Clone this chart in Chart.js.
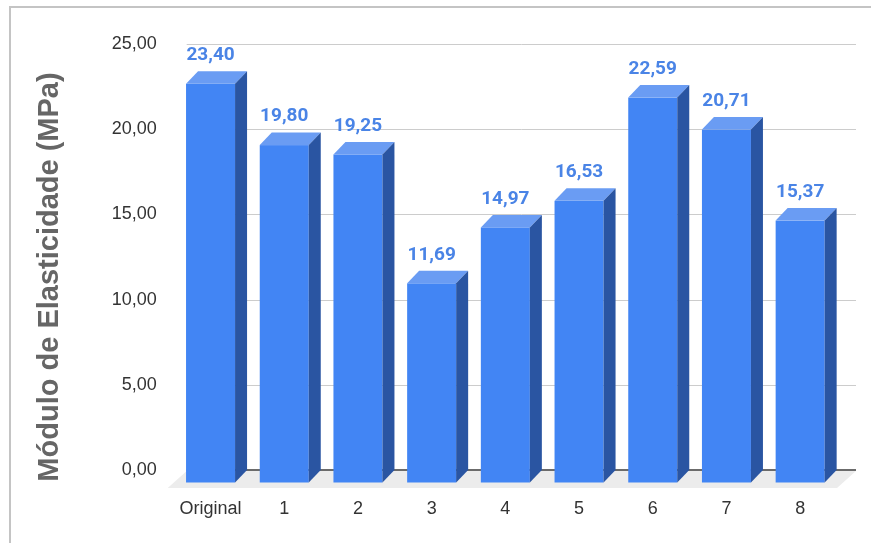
<!DOCTYPE html>
<html>
<head>
<meta charset="utf-8">
<script src="https://cdn.jsdelivr.net/npm/chart.js@4.4.1/dist/chart.umd.min.js"></script>
<style>
  body { margin: 0; background: #fff; }
  #wrap { width: 871px; height: 543px; position: relative; }
</style>
</head>
<body>
<div id="wrap"><canvas id="chart" width="871" height="543"></canvas></div>
<script>
// dados do grafico
const categorias = ['Original', '1', '2', '3', '4', '5', '6', '7', '8'];
const modulo = [23.40, 19.80, 19.25, 11.69, 14.97, 16.53, 22.59, 20.71, 15.37];
const yMax = 25;
const yStep = 5;
const tituloY = 'Módulo de Elasticidade (MPa)';

// profundidade do efeito 3D
const DX = 12, DY = 12.5;

function fmt(v) {
    return v.toFixed(2).replace('.', ',');
}

const bar3d = {
    id: 'bar3d',
    beforeDraw(chart) {
        // moldura cinza (topo e esquerda)
        let ctx = chart.ctx;
        ctx.save();
        ctx.strokeStyle = '#c4c4c4';
        ctx.lineWidth = 2;
        ctx.beginPath();
        ctx.moveTo(10, 543);
        ctx.lineTo(10, 7);
        ctx.lineTo(871, 7);
        ctx.stroke();
        ctx.restore();
    },
    beforeDatasetsDraw(chart) {
        const ctx = chart.ctx;
        const area = chart.chartArea;
        const y = chart.scales.y;
        const y0 = y.getPixelForValue(0);
        ctx.save();
        // chao
        ctx.fillStyle = '#ececec';
        ctx.beginPath();
        ctx.moveTo(area.left + 13, y0 + 1);
        ctx.lineTo(area.right + 19, y0 + 1);
        ctx.lineTo(area.right, y0 + 18);
        ctx.lineTo(area.left - 6, y0 + 18);
        ctx.closePath();
        ctx.fill();
        // linhas de grade
        ctx.strokeStyle = '#cccccc';
        ctx.lineWidth = 1;
        y.ticks.forEach(t => {
            if (t.value === 0) return;
            let py = Math.round(y.getPixelForValue(t.value)) + 0.5;
            ctx.beginPath();
            ctx.moveTo(area.left + 13, py);
            ctx.lineTo(area.right + 19, py);
            ctx.stroke();
        });
        ctx.strokeStyle = '#6b6b6b';
        ctx.lineWidth = 2;
        ctx.beginPath();
        ctx.moveTo(area.left + 13, y0);
        ctx.lineTo(area.right + 19, y0);
        ctx.stroke();
        ctx.restore();
    },
    afterDatasetsDraw(chart) {
        const ctx = chart.ctx;
        const meta = chart.getDatasetMeta(0);
        ctx.save();
        meta.data.forEach((bar, i) => {
            const p = bar.getProps(['x', 'y', 'base', 'width'], true);
            const l = p.x - p.width / 2, r = p.x + p.width / 2;
            const top = p.y + DY, bot = p.base + DY;
            // frente
            ctx.fillStyle = '#4285f4';
            ctx.fillRect(l, top, p.width, bot - top);
            // topo
            ctx.fillStyle = '#6a9cf3';
            ctx.beginPath();
            ctx.moveTo(l, top);
            ctx.lineTo(r, top);
            ctx.lineTo(r + DX, top - DY);
            ctx.lineTo(l + DX, top - DY);
            ctx.closePath();
            ctx.fill();
            // lateral
            ctx.fillStyle = '#2a55a2';
            ctx.beginPath();
            ctx.moveTo(r, top);
            ctx.lineTo(r + DX, top - DY);
            ctx.lineTo(r + DX, bot - DY);
            ctx.lineTo(r, bot);
            ctx.closePath();
            ctx.fill();
            // rotulo
            ctx.fillStyle = '#4a84e6';
            ctx.font = 'bold 19px Roboto';
            ctx.textAlign = 'center';
            ctx.textBaseline = 'middle';
            ctx.fillText(fmt(modulo[i]), p.x, p.y - 16);
        });
        ctx.restore();
    },
    afterDraw(chart) {
        const ctx = chart.ctx;
        ctx.save();
        ctx.translate(50, 277);
        ctx.rotate(-Math.PI / 2);
        ctx.fillStyle = '#666666';
        ctx.font = 'bold 29px "Liberation Sans"';
        ctx.textAlign = 'center';
        ctx.textBaseline = 'middle';
        ctx.fillText(tituloY, 0, 0);
        ctx.restore();
    }
};

const data = {
    labels: categorias,
    datasets: [{
        label: tituloY,
        data: modulo,
        backgroundColor: 'rgba(0,0,0,0)',
        borderWidth: 0,
        categoryPercentage: 1,
        barPercentage: 0.665
    }]
};

const config = {
    type: 'bar',
    data: data,
    options: {
        responsive: false,
        animation: false,
        layout: { padding: { top: 44, right: 34, bottom: 24.6, left: 0 } },
        plugins: {
            legend: { display: false },
            tooltip: { enabled: false }
        },
        scales: {
            x: {
                afterFit(scale) { scale.height = 48.4; },
                grid: { display: false, drawTicks: false },
                border: { display: false },
                ticks: {
                    color: '#333',
                    font: { family: 'Liberation Sans', size: 18 },
                    padding: 28,
                    maxRotation: 0
                }
            },
            y: {
                min: 0,
                max: yMax,
                afterFit(scale) { scale.width = 173.7; },
                grid: { display: false, drawTicks: false },
                border: { display: false },
                ticks: {
                    stepSize: yStep,
                    color: '#333',
                    font: { family: 'Liberation Sans', size: 18 },
                    padding: 17,
                    callback: v => fmt(v)
                }
            }
        }
    },
    plugins: [bar3d]
};

let ctx = document.getElementById('chart').getContext('2d');
new Chart(ctx, config);
</script>
</body>
</html>
